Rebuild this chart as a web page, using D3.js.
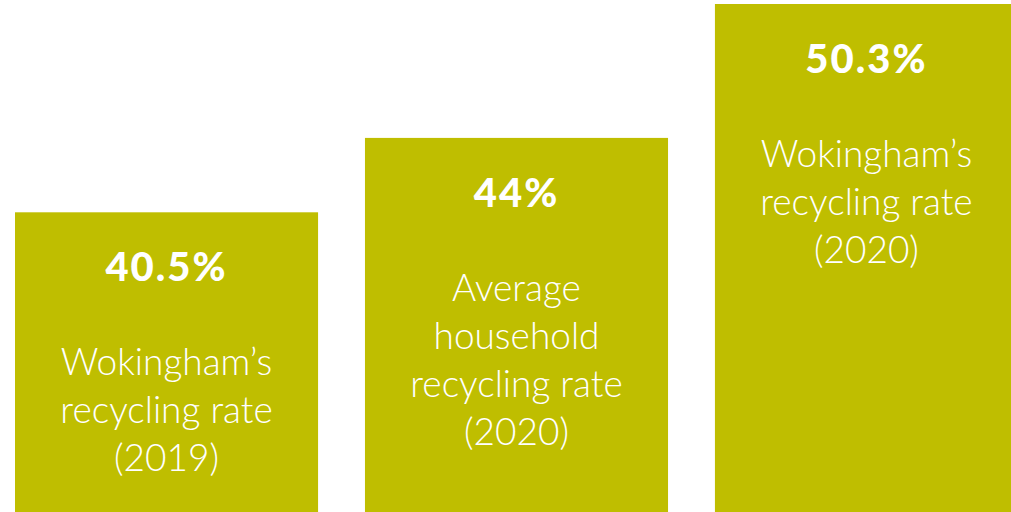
<!DOCTYPE html>
<html>
<head>
<meta charset="utf-8">
<script src="https://cdn.jsdelivr.net/npm/d3@7"></script>
<style>
    html, body { margin: 0; padding: 0; background: #fff; }
    #chart { width: 1011px; height: 512px; overflow: hidden; }
</style>
</head>
<body>
<div id="chart"></div>
<script>
// data
const categories = ['wok2019', 'avg2020', 'wok2020'];
const rates = [40.5, 44, 50.3];
const valueLabels = ['40.5%', '44%', '50.3%'];
const descLines = [
    ['Wokingham\u2019s', 'recycling rate', '(2019)'],
    ['Average', 'household', 'recycling rate', '(2020)'],
    ['Wokingham\u2019s', 'recycling rate', '(2020)']
];

const width = 1011,
      height = 512,
      barColor = '#bfbe00';

const svg = d3.select('#chart')
                .append('svg')
                .attr('width', width)
                .attr('height', height)
                .attr('class', 'svg');

let xAxis = d3.scaleBand()
        .domain(categories)
        .range([15, 1018])
        .paddingInner(0.134)
        .paddingOuter(0);

// bars don't start from zero in the original graphic
let yAxis = d3.scaleLinear()
        .domain([26.4, 50.3])
        .range([height, 4]);

const data = categories.map((c, i) => ({ key: c, value: rates[i], label: valueLabels[i], lines: descLines[i] }));

svg.selectAll('.bar-rect')
    .data(data)
    .enter()
    .append('rect')
    .attr('class', 'bar-rect')
    .attr('x', d => xAxis(d.key))
    .attr('y', d => yAxis(d.value))
    .attr('width', xAxis.bandwidth())
    .attr('height', d => height - yAxis(d.value))
    .attr('fill', barColor);

svg.selectAll('.bar-value')
    .data(data)
    .enter()
    .append('text')
    .attr('class', 'bar-value')
    .attr('x', d => xAxis(d.key) + xAxis.bandwidth() / 2)
    .attr('y', d => yAxis(d.value) + 69)
    .attr('text-anchor', 'middle')
    .attr('fill', '#fff')
    .attr('font-family', 'Lato, "Open Sans", sans-serif')
    .attr('font-size', '40px')
    .attr('font-weight', '900')
    .attr('letter-spacing', '2px')
    .text(d => d.label);

const desc = svg.selectAll('.bar-desc')
    .data(data)
    .enter()
    .append('text')
    .attr('class', 'bar-desc')
    .attr('text-anchor', 'middle')
    .attr('fill', '#fff')
    .attr('font-family', 'Lato, "Open Sans", sans-serif')
    .attr('font-size', '37px')
    .attr('font-weight', '300');

desc.selectAll('tspan')
    .data(d => d.lines.map((t, j) => ({ t, j, d })))
    .enter()
    .append('tspan')
    .attr('x', o => xAxis(o.d.key) + xAxis.bandwidth() / 2)
    .attr('y', o => yAxis(o.d.value) + 163 + o.j * 48)
    .text(o => o.t);
</script>
</body>
</html>
